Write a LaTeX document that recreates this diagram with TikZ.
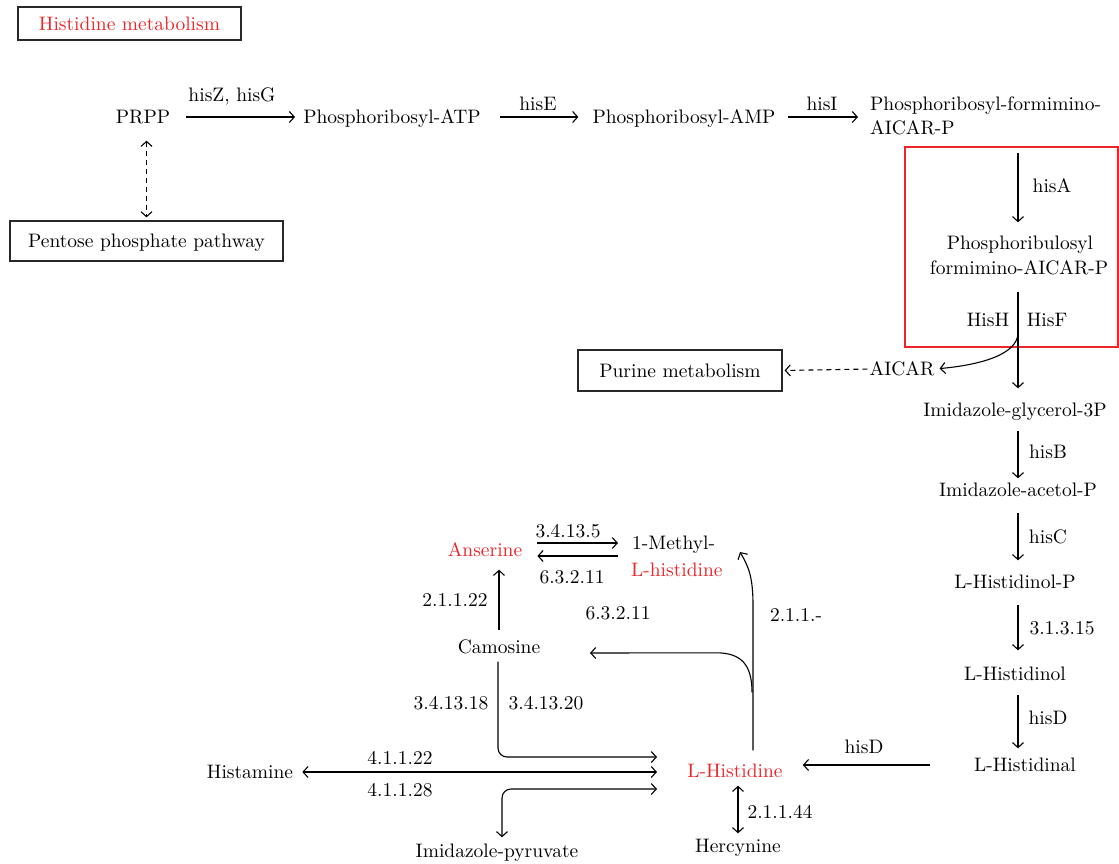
\documentclass[tikz,border=0pt]{standalone}
\usepackage{fontspec}
\setmainfont{lmroman10-regular.otf}
\usetikzlibrary{arrows.meta,calc}
\definecolor{pathred}{RGB}{237,36,40}
\definecolor{boxgray}{RGB}{40,40,40}
\begin{document}
\begin{tikzpicture}[x=1pt,y=-1pt,
  every node/.style={font=\fontsize{19.5}{24}\selectfont, inner sep=0pt},
  t/.style={text height=13pt, text depth=0pt},
  lbl/.style={t},
  redt/.style={t, text=pathred},
  pbox/.style={draw=boxgray, line width=1.2pt, t},
  arr/.style={-{Straight Barb[length=5pt,width=11pt]}, line width=1.1pt},
  dbl/.style={{Straight Barb[length=5pt,width=11pt]}-{Straight Barb[length=5pt,width=11pt]}, line width=1.1pt},
  dsh/.style={dash pattern=on 5pt off 4pt}]
\useasboundingbox (0,0) rectangle (1119,863);

% boxes
\node[pbox, text=pathred, minimum width=223pt, minimum height=33pt] (title) at (129.5,23.5) {Histidine metabolism};
\node[pbox, minimum width=273pt, minimum height=40pt] (ppp) at (146.5,241) {Pentose phosphate pathway};
\node[pbox, minimum width=204pt, minimum height=41pt] (purine) at (680,370.5) {Purine metabolism};
\node[draw=pathred, line width=1.2pt, minimum width=213pt, minimum height=200pt] (redbox) at (1011.5,247) {};

% metabolites
\node[t] (prpp) at (143,117) {PRPP};
\node[t] (atp) at (392,117) {Phosphoribosyl-ATP};
\node[t] (amp) at (684,117) {Phosphoribosyl-AMP};
\node[t, anchor=west] (form1) at (870,104) {Phosphoribosyl-formimino-};
\node[t, anchor=west] (form2) at (870,128) {AICAR-P};
\node[t] (prf1) at (1020,243) {Phosphoribulosyl};
\node[t] (prf2) at (1019,268) {formimino-AICAR-P};
\node[t] (aicar) at (902,369) {AICAR};
\node[t] (igp) at (1015,410) {Imidazole-glycerol-3P};
\node[t] (iap) at (1018,490) {Imidazole-acetol-P};
\node[t] (hp) at (1015,582) {L-Histidinol-P};
\node[t] (hol) at (1015,674) {L-Histidinol};
\node[t] (hal) at (1025,765) {L-Histidinal};
\node[redt] (lhis) at (735,771) {L-Histidine};
\node[t] (herc) at (738,846) {Hercynine};
\node[t] (camo) at (499,647) {Camosine};
\node[redt] (anser) at (485,550) {Anserine};
\node[t, anchor=west] (m1) at (632,543) {1-Methyl-};
\node[redt, anchor=west] (m2) at (631,570) {L-histidine};
\node[t] (histamine) at (250,772) {Histamine};
\node[t] (ipyr) at (497,851) {Imidazole-pyruvate};

% enzyme labels
\node[lbl] (lZG) at (232,95) {hisZ, hisG};
\node[lbl] (lE) at (538,104) {hisE};
\node[lbl] (lI) at (822,104) {hisI};
\node[lbl] (lA) at (1052,186) {hisA};
\node[lbl] (lH) at (988,320) {HisH};
\node[lbl] (lF) at (1047,320) {HisF};
\node[lbl] (lB) at (1048,452) {hisB};
\node[lbl] (lC) at (1048,537) {hisC};
\node[lbl] (l31315) at (1062,628) {3.1.3.15};
\node[lbl] (lD1) at (1048,718) {hisD};
\node[lbl] (lD2) at (864,747) {hisD};
\node[lbl] (l21144) at (780,812) {2.1.1.44};
\node[lbl] (l2111) at (796,615) {2.1.1.-};
\node[lbl] (l63211b) at (618,613) {6.3.2.11};
\node[lbl] (l34135) at (568,531) {3.4.13.5};
\node[lbl] (l63211a) at (572,577) {6.3.2.11};
\node[lbl] (l21122) at (455,600) {2.1.1.22};
\node[lbl] (l341318) at (451,703) {3.4.13.18};
\node[lbl] (l341320) at (546,703) {3.4.13.20};
\node[lbl] (l41122) at (400,758) {4.1.1.22};
\node[lbl] (l41128) at (400,790) {4.1.1.28};

% helper coordinates
\coordinate (colx) at (1018,0);
\coordinate (mtip) at (740,552);
\coordinate (ctip) at (590,653);
\coordinate (inT) at (657,757);
\coordinate (inM) at (657,772);
\coordinate (inB) at (657,789);

% top chain
\draw[arr, shorten <=16pt, shorten >=8pt] (prpp.east) -- (atp.west);
\draw[arr, shorten <=19pt, shorten >=14pt] (atp.east) -- (amp.west);
\draw[arr, shorten <=12pt, shorten >=12pt] (amp.east) -- (form1.west |- amp.east);
\draw[dbl, dsh, shorten <=17pt, shorten >=3pt] (prpp.south -| ppp.north) -- (ppp.north);

% right column
\draw[arr, shorten <=7pt, shorten >=14pt] (redbox.north -| colx) -- (prf1.north -| colx);
\draw[arr, shorten <=17pt, shorten >=15pt] (prf2.south -| colx) -- (igp.north -| colx);
\draw[arr, shorten >=5pt] ($(prf2.south -| colx)+(0,58)$) .. controls +(0,22) and +(45,-4) .. (aicar.east);
\draw[arr, dsh, shorten <=2pt, shorten >=2pt] (aicar.west) -- (purine.east);
\draw[arr, shorten <=14pt, shorten >=5pt] (igp.south -| colx) -- (iap.north -| colx);
\draw[arr, shorten <=16pt, shorten >=15pt] (iap.south -| colx) -- (hp.north -| colx);
\draw[arr, shorten <=16pt, shorten >=17pt] (hp.south -| colx) -- (hol.north -| colx);
\draw[arr, shorten <=14pt, shorten >=10pt] (hol.south -| colx) -- (hal.north -| colx);
\draw[arr, shorten <=44pt, shorten >=20pt] (hal.west) -- (lhis.east |- hal.west);

% L-histidine neighbourhood
\draw[dbl, shorten <=8pt, shorten >=6pt] (lhis.south -| herc.north) -- (herc.north);
\draw[arr] ($(lhis.north)+(18,-14)$) -- ++(0,-145) .. controls +(0,-30) and +(8,14) .. (mtip);
\draw[arr] ($(lhis.north)+(17,-72)$) .. controls +(0,-28) and +(25,0) .. ++(-36,-39.5) -- (ctip);
\draw[arr, rounded corners=9pt, shorten <=8pt] (camo.south -| 498,0) |- (inT);
\draw[dbl, shorten <=9pt] (histamine.east) -- (inM);
\draw[dbl, rounded corners=9pt, shorten <=7pt] ($(ipyr.north)+(5,0)$) |- (inB);
\draw[arr, shorten <=10pt, shorten >=13pt] (camo.north -| 499,0) -- (anser.south -| 499,0);
\draw[arr, shorten <=15pt, shorten >=14pt] ($(anser.east)+(0,-7)$) -- ($(m1.west)+(0,0)$);
\draw[arr, shorten <=14pt, shorten >=15pt] ($(m1.west)+(0,13)$) -- ($(anser.east)+(0,6)$);
\end{tikzpicture}
\end{document}
